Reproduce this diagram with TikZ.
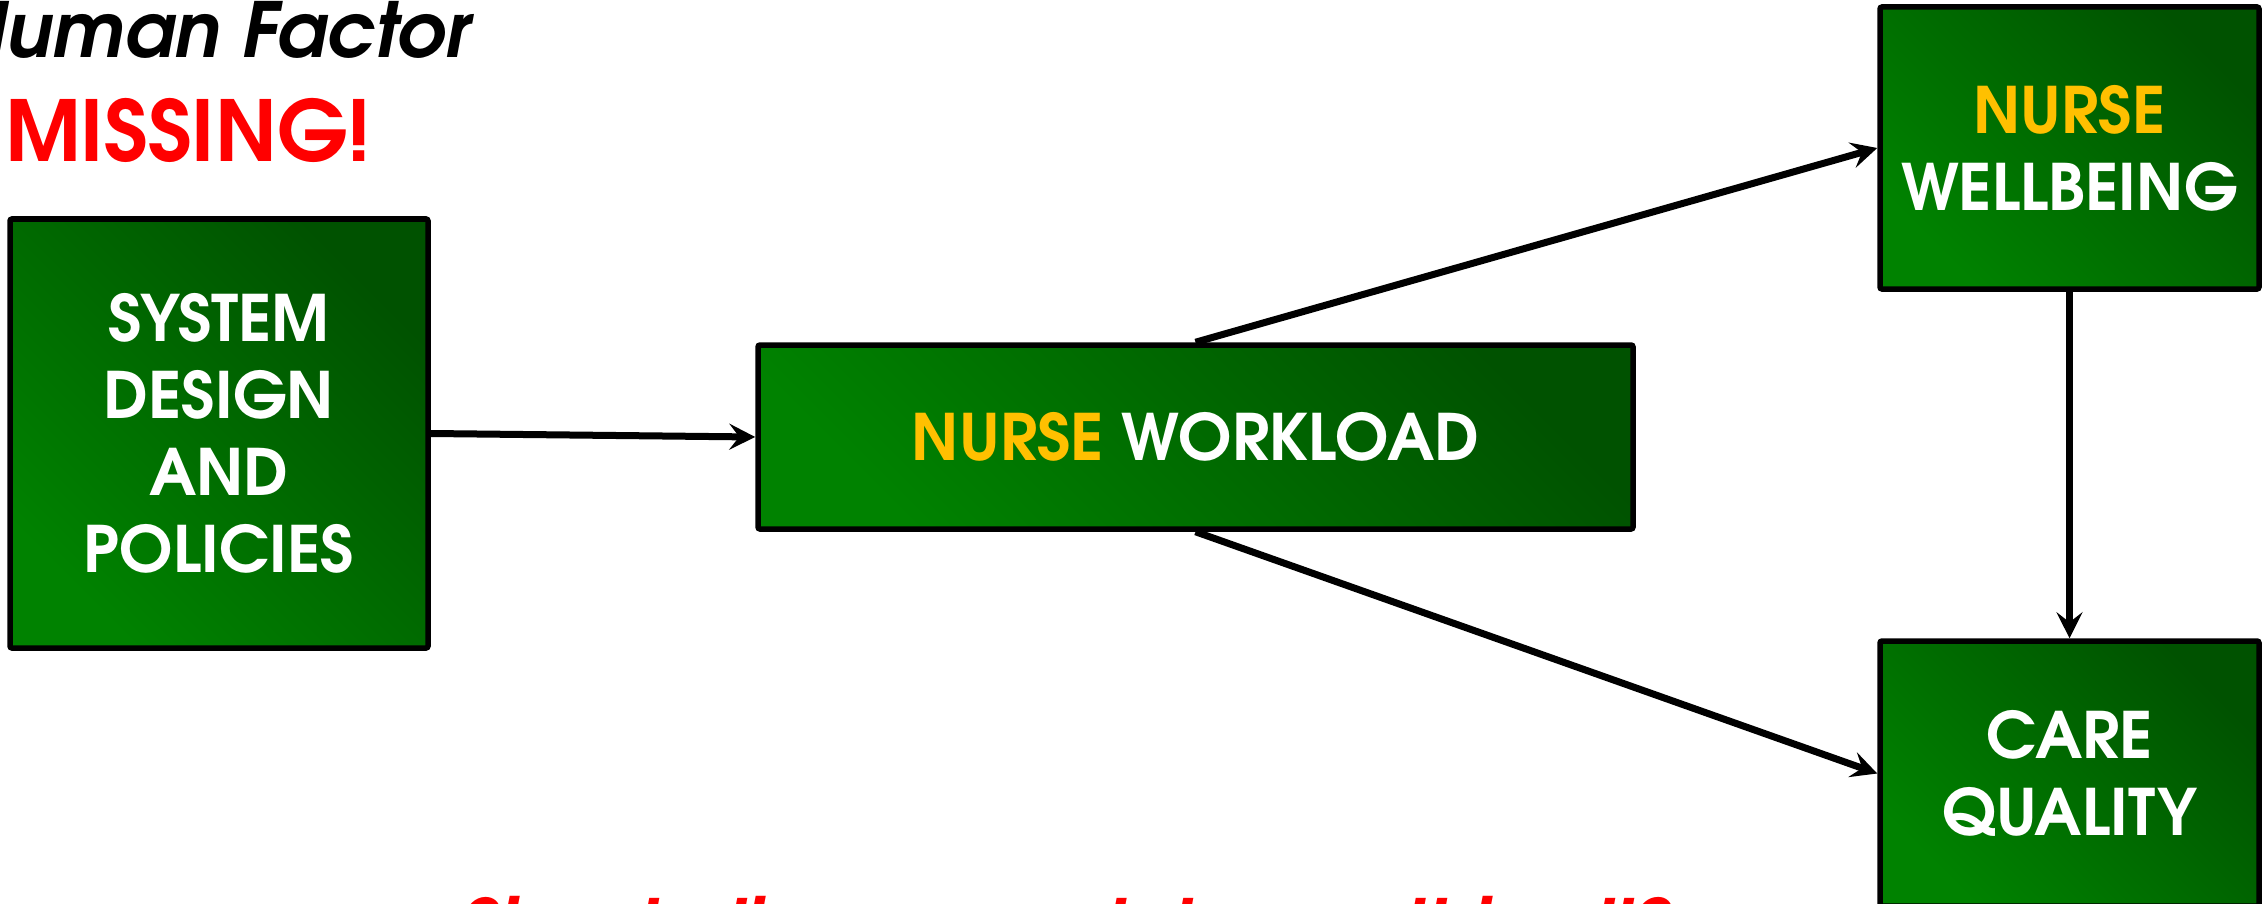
\documentclass[tikz,border=0pt]{standalone}
\usepackage{fontspec}
\setmainfont{texgyreadventor}[Extension=.otf, UprightFont=*-regular,
  BoldFont=*-bold, ItalicFont=*-italic, BoldItalicFont=*-bolditalic]
\usetikzlibrary{arrows.meta}
\definecolor{boxlight}{RGB}{0,130,0}
\definecolor{boxdark}{RGB}{0,82,0}
\definecolor{gold}{RGB}{255,192,0}
\definecolor{alertred}{RGB}{255,0,0}
\tikzset{
  greenbox/.style={draw=black, line width=5.5pt, rounded corners=2pt,
    top color=boxdark, bottom color=boxlight, shading angle=-45,
    text=white, font=\bfseries\fontsize{64}{77}\selectfont,
    align=center, inner sep=0pt},
  link/.style={draw=black, line width=7pt,
    -{Stealth[length=26pt, width=26pt, inset=10pt]}}
}
\begin{document}
\begin{tikzpicture}[x=1pt, y=-1pt]
  \useasboundingbox (0,0) rectangle (2264,904);
  \clip (0,0) rectangle (2264,904);

  % headings
  \node[anchor=base east, inner sep=0pt, font=\bfseries\itshape\fontsize{76}{90}\selectfont]
    (human) at (470,58) {Human Factor};
  \node[anchor=base west, inner sep=0pt, text=alertred, font=\bfseries\fontsize{84}{100}\selectfont]
    (missing) at (5,162) {MISSING!};

  % boxes
  \node[greenbox, minimum width=418pt, minimum height=429pt] (sys) at (219,433.5)
    {SYSTEM\\DESIGN\\AND\\POLICIES};
  \node[greenbox, minimum width=875pt, minimum height=184pt] (load) at (1195.5,437)
    {{\color{gold}NURSE} WORKLOAD};
  \node[greenbox, minimum width=379pt, minimum height=282pt] (well) at (2069.5,148)
    {{\color{gold}NURSE}\\WELLBEING};
  \node[greenbox, minimum width=379pt, minimum height=265pt] (care) at (2069.5,773.5)
    {CARE\\QUALITY};

  % connectors
  \draw[link] (sys.east) -- (load.west);
  \draw[link] (load.north) -- (well.west);
  \draw[link] (load.south) -- (care.west);
  \draw[link] (well.south) -- (care.north);

  % caption along the lower edge
  \node[anchor=base west, inner sep=0pt, text=alertred, font=\bfseries\itshape\fontsize{76}{90}\selectfont]
    (caption) at (458,954) {Simple linear model: was this all?};
\end{tikzpicture}
\end{document}
